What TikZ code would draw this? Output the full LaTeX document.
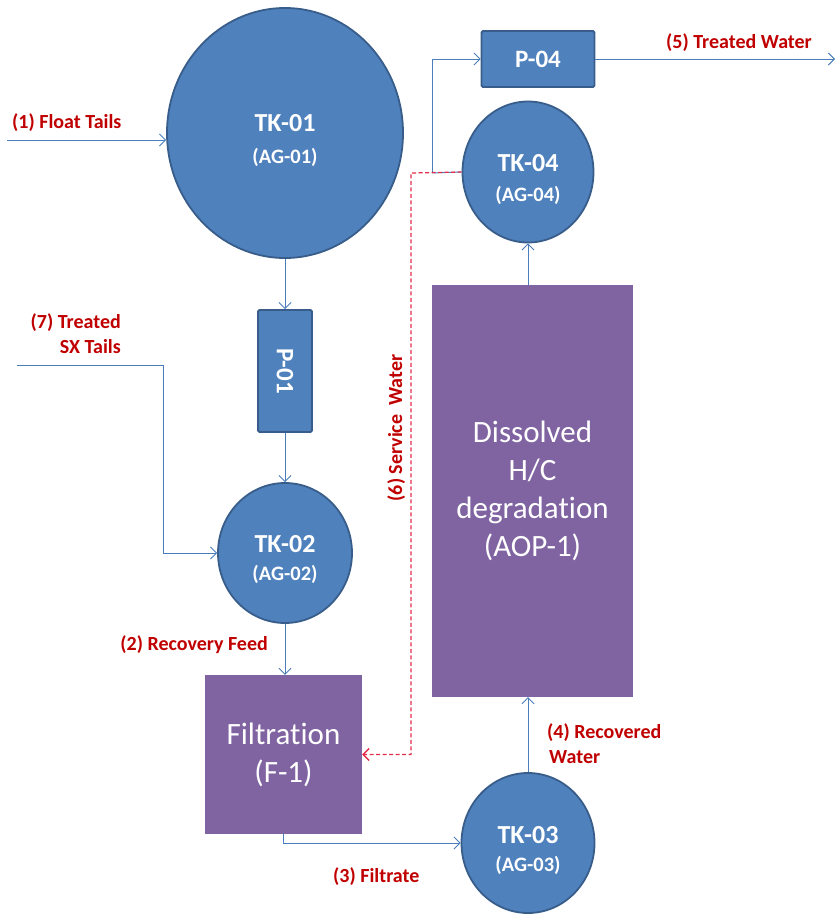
\documentclass[tikz,border=0pt]{standalone}
\usepackage{fontspec}
\setmainfont{Carlito}
\usetikzlibrary{arrows.meta,shapes.geometric}
\definecolor{tankblue}{RGB}{79,129,189}
\definecolor{tankedge}{RGB}{56,93,138}
\definecolor{procpurple}{RGB}{128,100,162}
\definecolor{pipe}{RGB}{74,126,187}
\definecolor{lbl}{RGB}{192,0,0}
\definecolor{svc}{RGB}{228,45,75}
\begin{document}
\begin{tikzpicture}[x=1pt,y=-1pt,
 tank/.style={ellipse, draw=tankedge, line width=1.8pt, fill=tankblue, inner sep=0},
 pump/.style={rectangle, rounded corners=1.5pt, draw=tankedge, line width=1.8pt, fill=tankblue, text=white, inner sep=0, font=\bfseries\fontsize{25}{28}\selectfont},
 proc/.style={rectangle, fill=procpurple, text=white, inner sep=0, align=center, font=\addfontfeatures{Ligatures=NoCommon}\fontsize{31}{38}\selectfont},
 tkname/.style={text=white, inner sep=0, font=\bfseries\fontsize{26}{30}\selectfont},
 agname/.style={text=white, inner sep=0, font=\bfseries\fontsize{20.5}{24}\selectfont},
 pipeline/.style={draw=pipe, line width=0.9pt},
 flow/.style={pipeline, -{Straight Barb[length=6pt,width=12pt]}},
 svcline/.style={draw=svc, line width=1.3pt, dash pattern=on 4pt off 2.5pt, -{Straight Barb[length=6pt,width=12pt]}},
 lab/.style={text=lbl, inner sep=0, font=\bfseries\fontsize{20}{25}\selectfont},
]
\useasboundingbox (0,0) rectangle (837,916);

% tanks
\node[tank, minimum width=236, minimum height=250] (tk1) at (285,133) {};
\node[tkname] (tk1n) at (285,123) {TK-01};
\node[agname] (tk1a) at (285,157) {(AG-01)};

\node[tank, minimum width=134, minimum height=140] (tk2) at (285,553) {};
\node[tkname] (tk2n) at (285,544) {TK-02};
\node[agname] (tk2a) at (285,574) {(AG-02)};

\node[tank, minimum width=133, minimum height=140] (tk3) at (528,843) {};
\node[tkname] (tk3n) at (528,835) {TK-03};
\node[agname] (tk3a) at (528,865) {(AG-03)};

\node[tank, minimum width=131, minimum height=141] (tk4) at (528,172) {};
\node[tkname] (tk4n) at (528,163) {TK-04};
\node[agname] (tk4a) at (528,195) {(AG-04)};

% pumps
\node[pump, minimum width=54, minimum height=122] (p1) at (285,371) {\rotatebox{-90}{P-01}};
\node[pump, minimum width=113, minimum height=56] (p4) at (538,59) {P-04};

% process units
\node[proc, minimum width=157, minimum height=159] (filt) at (283.5,754.5) {Filtration\\(F-1)};
\node[proc, minimum width=201, minimum height=412] (aop) at (532.5,491) {Dissolved\\H/C\\degradation\\(AOP-1)};

% free ends
\coordinate (ft) at (7,140);
\coordinate (sx) at (17,365);
\coordinate (sxc) at (163,365);
\coordinate (jn) at (432,173);
\coordinate (sw) at (411,173);
\coordinate (tw) at (835,59);

% connectors
\draw[flow] (ft) -- (ft -| tk1.west);
\draw[flow] (tk1.south) -- (p1.north);
\draw[flow] (p1.south) -- (tk2.north);
\draw[flow] (sx) -- (sxc) |- (tk2.west);
\draw[flow] (tk2.south) -- (tk2.south |- filt.north);
\draw[flow] (filt.south) |- (tk3.west);
\draw[flow] (tk3.north) -- (tk3.north |- aop.south);
\draw[flow] (tk4.south |- aop.north) -- (tk4.south);
\draw[pipeline] (tk4.west) -- (jn);
\draw[flow] (jn) |- (p4.west);
\draw[flow] (p4.east) -- (tw);
\draw[svcline] (tk4.west) -- (sw) |- (filt.east);

% labels
\node[lab, anchor=base west] (l1) at (12,128) {(1) Float Tails};
\node[lab, anchor=base west] (l5) at (666,48) {(5) Treated Water};
\node[lab, anchor=base east] (l7a) at (121,328) {(7) Treated};
\node[lab, anchor=base east] (l7b) at (121,353) {SX Tails};
\node[lab, anchor=base east] (l2) at (268,650) {(2) Recovery Feed};
\node[lab, anchor=base west] (l3) at (333,882) {(3) Filtrate};
\node[lab, anchor=base west] (l4a) at (547,738) {(4) Recovered};
\node[lab, anchor=base west] (l4b) at (549,763) {Water};
\node[lab, anchor=base, rotate=90] (l6) at (402,428) {(6) Service\ \ Water};
\end{tikzpicture}
\end{document}
